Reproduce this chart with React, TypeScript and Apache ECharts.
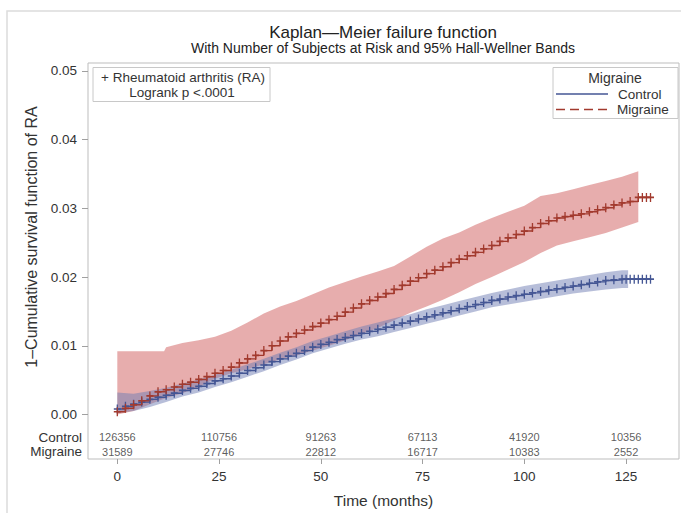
import React, { useEffect, useRef } from 'react';
import * as echarts from 'echarts';

const X_TICKS = [0, 25, 50, 75, 100, 125];
const Y_TICKS = [0, 0.01, 0.02, 0.03, 0.04, 0.05];

// Migraine (red) KM failure curve
const MIG_T = [0,2,4,6,8,10,12,14,16,18,20,22,24,26,28,30,32,34,36,38,40,42,44,46,48,50,52,54,56,58,60,62,64,66,68,70,72,74,76,78,80,82,84,86,88,90,92,94,96,98,100,102,104,106,108,110,112,114,116,118,120,122,124,126,128,129,130,131];
const MIG_F = [0.0004,0.0009,0.0014,0.0020,0.0027,0.0033,0.0036,0.0040,0.0044,0.0047,0.0051,0.0055,0.0060,0.0064,0.0069,0.0075,0.0081,0.0086,0.0093,0.0100,0.0107,0.0113,0.0118,0.0123,0.0128,0.0133,0.0138,0.0143,0.0149,0.0155,0.0161,0.0166,0.0171,0.0176,0.0182,0.0188,0.0194,0.0199,0.0205,0.0210,0.0215,0.0221,0.0226,0.0231,0.0236,0.0241,0.0246,0.0252,0.0257,0.0262,0.0267,0.0272,0.0278,0.0282,0.0286,0.0288,0.0290,0.0292,0.0295,0.0298,0.0301,0.0305,0.0308,0.0310,0.0316,0.0316,0.0316,0.0316];

// Control (blue) KM failure curve
const CON_T = [0,2,4,6,8,10,12,14,16,18,20,22,24,26,28,30,32,34,36,38,40,42,44,46,48,50,52,54,56,58,60,62,64,66,68,70,72,74,76,78,80,82,84,86,88,90,92,94,96,98,100,102,104,106,108,110,112,114,116,118,120,122,124,125,126,127,128,129,130,131];
const CON_F = [0.0008,0.0012,0.0015,0.0018,0.0022,0.0025,0.0028,0.0031,0.0035,0.0038,0.0041,0.0045,0.0049,0.0052,0.0056,0.0060,0.0064,0.0068,0.0072,0.0077,0.0081,0.0085,0.0089,0.0093,0.0098,0.0102,0.0105,0.0109,0.0112,0.0115,0.0118,0.0121,0.0124,0.0127,0.0130,0.0133,0.0136,0.0139,0.0142,0.0145,0.0148,0.0151,0.0154,0.0157,0.0160,0.0163,0.0166,0.0168,0.0171,0.0173,0.0175,0.0177,0.0179,0.0181,0.0183,0.0185,0.0187,0.0189,0.0191,0.0193,0.0195,0.0196,0.0197,0.0197,0.0197,0.0197,0.0197,0.0197,0.0197,0.0197];

// Hall-Wellner bands
const MIG_BAND_T = [0,4,8,11.5,12,16,20,24,28,32,36,40,44,48,52,56,60,64,68,72,76,80,84,88,92,96,100,104,108,112,116,120,124,128];
const MIG_BAND_LO = [0,0.0005,0.0015,0.0023,0.0024,0.0031,0.0040,0.0052,0.0060,0.0066,0.0073,0.0080,0.0086,0.0093,0.0100,0.0108,0.0117,0.0126,0.0137,0.0148,0.0157,0.0167,0.0178,0.0190,0.0200,0.0211,0.0222,0.0235,0.0246,0.0252,0.0258,0.0264,0.0272,0.0280];
const MIG_BAND_HI = [0.0092,0.0092,0.0092,0.0092,0.0098,0.0104,0.0108,0.0113,0.0122,0.0134,0.0147,0.0157,0.0165,0.0175,0.0185,0.0193,0.0201,0.0208,0.0216,0.0230,0.0244,0.0256,0.0265,0.0276,0.0286,0.0295,0.0304,0.0318,0.0322,0.0328,0.0334,0.0340,0.0346,0.0354];

const CON_BAND_T = [0,4,8,12,16,20,24,28,32,36,40,44,48,52,56,60,64,68,72,76,80,84,88,92,96,100,104,108,112,116,120,124,125.5];
const CON_BAND_LO = [0.0002,0.0005,0.0011,0.0018,0.0026,0.0032,0.0040,0.0047,0.0055,0.0063,0.0072,0.0080,0.0089,0.0096,0.0103,0.0109,0.0114,0.0120,0.0126,0.0132,0.0138,0.0144,0.0150,0.0156,0.0160,0.0164,0.0168,0.0172,0.0176,0.0179,0.0182,0.0184,0.0184];
const CON_BAND_HI = [0.0032,0.0030,0.0034,0.0039,0.0045,0.0051,0.0058,0.0065,0.0073,0.0081,0.0090,0.0098,0.0107,0.0114,0.0121,0.0128,0.0134,0.0140,0.0146,0.0153,0.0159,0.0165,0.0171,0.0177,0.0182,0.0187,0.0191,0.0195,0.0199,0.0203,0.0207,0.0210,0.0210];

// Number at risk
const RISK_T = [0, 25, 50, 75, 100, 125];
const RISK_GROUPS = ['Control', 'Migraine'];
const RISK_CONTROL = [126356, 110756, 91263, 67113, 41920, 10356];
const RISK_MIGRAINE = [31589, 27746, 22812, 16717, 10383, 2552];

const FONT = '"Liberation Sans", Arial, sans-serif';
const TXT = '#333333';
const BLUE = '#445694';
const RED = '#A23A2E';
const PLUS = 'path://M3.25,0H4.75V3.25H8V4.75H4.75V8H3.25V4.75H0V3.25H3.25Z';

function bandSeries(t: number[], lo: number[], hi: number[], color: string) {
  return {
    type: 'custom',
    silent: true,
    data: [[t[0], lo[0]]],
    renderItem: (_params: any, api: any) => {
      const pts: number[][] = [];
      for (let i = 0; i < t.length; i++) pts.push(api.coord([t[i], hi[i]]));
      for (let i = t.length - 1; i >= 0; i--) pts.push(api.coord([t[i], lo[i]]));
      return { type: 'polygon', shape: { points: pts }, style: { fill: color, stroke: 'none' } };
    },
  };
}

export default function App() {
  const ref = useRef<HTMLDivElement>(null);

  useEffect(() => {
    if (!ref.current) return;
    const chart = echarts.init(ref.current, null, { renderer: 'svg' });

    const zip = (t: number[], v: number[]) => t.map((x, i) => [x, v[i]]);

    const rowY = [-0.00328, -0.00546];
    const riskData = [
      ...RISK_T.map((t, i) => [t, rowY[0], RISK_CONTROL[i]]),
      ...RISK_T.map((t, i) => [t, rowY[1], RISK_MIGRAINE[i]]),
    ];

    const option: any = {
      animation: false,
      backgroundColor: '#ffffff',
      grid: {
        left: 88, top: 63, width: 591, height: 396,
        show: true, borderColor: '#bdbdbd', borderWidth: 1, backgroundColor: 'transparent',
        containLabel: false,
      },
      xAxis: {
        type: 'value', min: -7.2, max: 138, position: 'bottom',
        axisLine: { show: false, onZero: false },
        splitLine: { show: false },
        axisTick: { show: true, customValues: X_TICKS, length: 5, lineStyle: { color: '#a0a0a0' } },
        axisLabel: { customValues: X_TICKS, margin: 10, fontSize: 13.5, color: TXT, fontFamily: FONT },
        name: 'Time (months)', nameLocation: 'middle', nameGap: 33,
        nameTextStyle: { fontSize: 15.5, color: TXT, fontFamily: FONT },
      },
      yAxis: [
        {
          type: 'value', min: -0.00648, max: 0.05116, position: 'left',
          axisLine: { show: false, onZero: false },
          splitLine: { show: false },
          axisTick: { show: true, customValues: Y_TICKS, length: 6, lineStyle: { color: '#a0a0a0' } },
          axisLabel: {
            customValues: Y_TICKS, margin: 11, fontSize: 13.5, color: TXT, fontFamily: FONT,
            formatter: (v: number) => v.toFixed(2),
          },
        },
        {
          type: 'value', min: -0.00648, max: 0.05116, position: 'left',
          axisLine: { show: false, onZero: false }, splitLine: { show: false }, axisTick: { show: false },
          axisLabel: {
            customValues: rowY, margin: 6, fontSize: 13.5, color: TXT, fontFamily: FONT,
            formatter: (v: number) => (Math.abs(v - rowY[0]) < 1e-6 ? RISK_GROUPS[0] : RISK_GROUPS[1]),
          },
        },
      ],
      series: [
        bandSeries(MIG_BAND_T, MIG_BAND_LO, MIG_BAND_HI, 'rgba(208,91,91,0.5)'),
        bandSeries(CON_BAND_T, CON_BAND_LO, CON_BAND_HI, 'rgba(111,126,179,0.5)'),
        {
          type: 'line', name: 'Control', step: 'end', symbol: PLUS, symbolSize: [7, 9],
          showSymbol: true, showAllSymbol: true,
          lineStyle: { width: 1.4, color: BLUE }, itemStyle: { color: BLUE },
          data: zip(CON_T, CON_F),
        },
        {
          type: 'line', name: 'Migraine', step: 'end', symbol: PLUS, symbolSize: [7, 9],
          showSymbol: true, showAllSymbol: true,
          lineStyle: { width: 1.4, color: RED }, itemStyle: { color: RED },
          data: zip(MIG_T, MIG_F),
        },
        {
          type: 'scatter', name: 'risk', symbolSize: 1, itemStyle: { color: 'rgba(0,0,0,0)' },
          label: {
            show: true, position: 'inside', color: TXT, fontSize: 11, fontFamily: FONT,
            formatter: (p: any) => String(p.value[2]),
          },
          data: riskData, silent: true,
        },
      ],
      graphic: [
        { type: 'rect', shape: { x: 7, y: 11, width: 700, height: 520 }, style: { fill: 'none', stroke: '#dcdcdc', lineWidth: 1.5 }, z: -10, silent: true },
        { type: 'text', style: { text: 'Kaplan\u2014Meier failure function', x: 383, y: 32, textAlign: 'center', textVerticalAlign: 'middle', fontSize: 17, fontFamily: FONT, fill: '#222' } },
        { type: 'text', style: { text: 'With Number of Subjects at Risk and 95% Hall-Wellner Bands', x: 383, y: 48, textAlign: 'center', textVerticalAlign: 'middle', fontSize: 14, fontFamily: FONT, fill: '#222' } },
        { type: 'text', rotation: Math.PI / 2, x: 31, y: 237, style: { text: '1\u2013Cumulative survival function of RA', x: 0, y: 0, textAlign: 'center', textVerticalAlign: 'middle', fontSize: 16, fontFamily: FONT, fill: TXT } },
        { type: 'rect', shape: { x: 93, y: 67.5, width: 177, height: 34 }, style: { fill: '#fff', stroke: '#c8c8c8', lineWidth: 1 }, z: 50 },
        { type: 'text', z: 51, style: { text: '+ Rheumatoid arthritis (RA)', x: 183, y: 77, textAlign: 'center', textVerticalAlign: 'middle', fontSize: 13.5, fontFamily: FONT, fill: TXT } },
        { type: 'text', z: 51, style: { text: 'Logrank p <.0001', x: 182, y: 92.5, textAlign: 'center', textVerticalAlign: 'middle', fontSize: 13.5, fontFamily: FONT, fill: TXT } },
        { type: 'rect', shape: { x: 553, y: 67.5, width: 125, height: 51 }, style: { fill: '#fff', stroke: '#c8c8c8', lineWidth: 1 }, z: 50 },
        { type: 'text', z: 51, style: { text: 'Migraine', x: 615, y: 78, textAlign: 'center', textVerticalAlign: 'middle', fontSize: 14, fontFamily: FONT, fill: TXT } },
        { type: 'line', z: 51, shape: { x1: 556, y1: 94, x2: 608, y2: 94 }, style: { stroke: BLUE, lineWidth: 1.3 } },
        { type: 'line', z: 51, shape: { x1: 556, y1: 109.5, x2: 608, y2: 109.5 }, style: { stroke: RED, lineWidth: 1.3, lineDash: [9, 5] } },
        { type: 'text', z: 51, style: { text: 'Control', x: 618, y: 94, textAlign: 'left', textVerticalAlign: 'middle', fontSize: 13.5, fontFamily: FONT, fill: TXT } },
        { type: 'text', z: 51, style: { text: 'Migraine', x: 617, y: 109.5, textAlign: 'left', textVerticalAlign: 'middle', fontSize: 13.5, fontFamily: FONT, fill: TXT } },
      ],
    };

    chart.setOption(option);
    return () => chart.dispose();
  }, []);

  return <div ref={ref} style={{ position: 'fixed', left: 0, top: 0, width: 681, height: 513, background: '#fff' }} />;
}
